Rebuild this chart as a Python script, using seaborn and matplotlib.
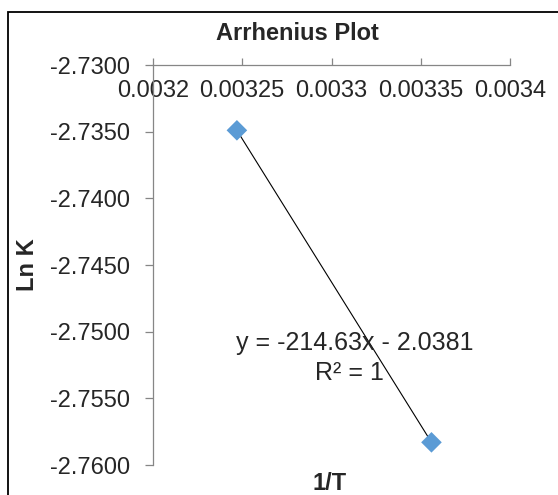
import numpy as np
import pandas as pd
import matplotlib
matplotlib.use("Agg")
import matplotlib.pyplot as plt
import seaborn as sns
from matplotlib.patches import Rectangle

# data
inv_T = [0.003247, 0.003356]
ln_k = [-2.7349, -2.7583]
x_ticks = [0.0032, 0.00325, 0.0033, 0.00335, 0.0034]
x_tick_labels = ["0.0032", "0.00325", "0.0033", "0.00335", "0.0034"]
y_ticks = [-2.7600, -2.7550, -2.7500, -2.7450, -2.7400, -2.7350, -2.7300]
eq_text = "y = -214.63x - 2.0381"
r2_text = "R² = 1"

df = pd.DataFrame({"1/T": inv_T, "Ln K": ln_k})

sns.set_style("white")
plt.rcParams["font.family"] = ["Liberation Sans", "DejaVu Sans"]
fs = 17
grey = "#868686"

fig = plt.figure(figsize=(5.58, 4.95), dpi=100)
ax = fig.add_axes([153 / 558, 1 - 465 / 495, (510 - 153) / 558, 400 / 495])

# trendline, then markers on top
sns.regplot(x="1/T", y="Ln K", data=df, ax=ax, scatter=False, ci=None,
            line_kws={"color": "black", "lw": 0.8})
sns.scatterplot(x="1/T", y="Ln K", data=df, ax=ax, marker="D", s=110,
                color="#5B9BD5", edgecolor="none", zorder=3)

ax.set_xlim(0.0032, 0.0034)
ax.set_ylim(-2.76, -2.73)
ax.set_xticks(x_ticks)
ax.set_xticklabels(x_tick_labels)
ax.set_yticks(y_ticks)
ax.set_yticklabels([f"{v:.4f}" for v in y_ticks])

# Excel style: horizontal axis sits at the top (y = -2.73)
ax.spines["bottom"].set_position(("data", -2.73))
ax.spines["top"].set_visible(False)
ax.spines["right"].set_visible(False)
for s in ["bottom", "left"]:
    ax.spines[s].set_color(grey)
    ax.spines[s].set_linewidth(0.9)
ax.tick_params(axis="x", direction="in", length=5, width=0.9, color=grey,
               labelsize=fs, pad=11, bottom=True)
ax.tick_params(axis="y", direction="out", length=5.5, width=0.9, color=grey,
               labelsize=fs, pad=11, left=True)
ax.set_xlabel("")
ax.set_ylabel("")
ax.grid(False)

ax.text(0.0033132, -2.75085, eq_text, ha="center", va="center", fontsize=18)
ax.text(0.0033103, -2.7531, r2_text, ha="center", va="center", fontsize=18)

fig.text(297 / 558, 1 - 22 / 495, "Arrhenius Plot", ha="center", va="top",
         fontsize=fs, fontweight="bold")
fig.text(330 / 558, 1 - 472 / 495, "1/T", ha="center", va="top",
         fontsize=fs, fontweight="bold")
fig.text(27 / 558, 1 - 265 / 495, "Ln K", ha="center", va="center",
         rotation=90, fontsize=fs, fontweight="bold")

# chart area border (cropped at right and bottom)
fig.patches.append(Rectangle((8 / 558, -0.1), 1.2, 1 - 12 / 495 + 0.1,
                             transform=fig.transFigure, fill=False,
                             edgecolor="black", lw=1.3))

fig.savefig("out.png", dpi=100)
